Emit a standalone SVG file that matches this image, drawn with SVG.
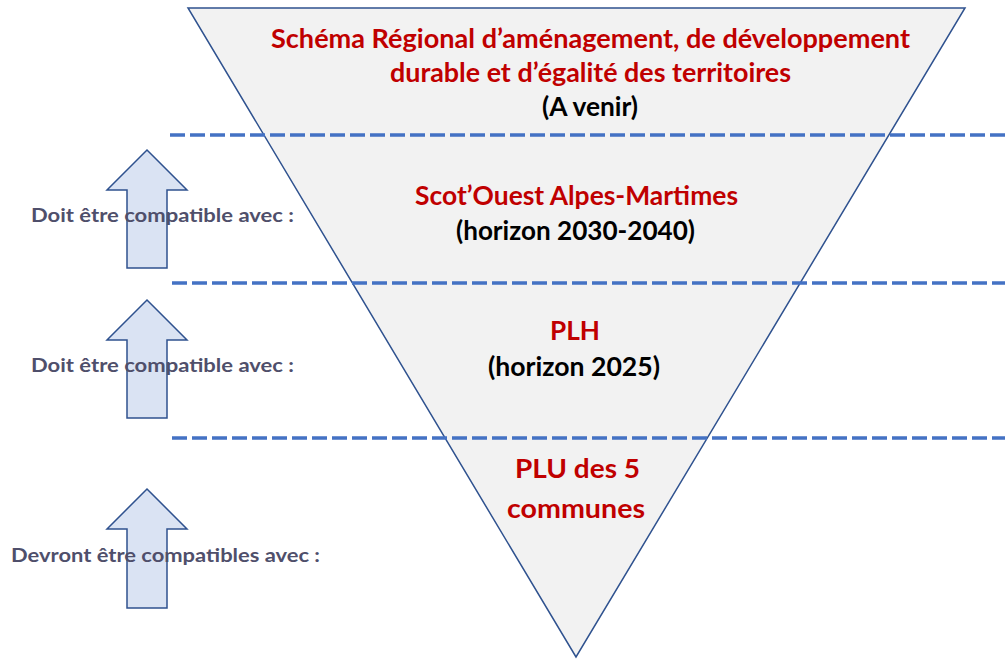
<svg xmlns="http://www.w3.org/2000/svg" width="1005" height="659" viewBox="0 0 1005 659">
<style>
.red{fill:#c00000;font-family:Lato,"Liberation Sans",sans-serif;font-weight:bold;font-size:26px}
.blk{fill:#000;font-family:Lato,"Liberation Sans",sans-serif;font-weight:bold;font-size:26px}
.lbl{fill:#4f4f6b;font-family:Lato,"Liberation Sans",sans-serif;font-weight:bold;font-size:18.5px}
.dash{stroke:#4472c4;stroke-width:3.5;stroke-dasharray:15 5;fill:none}
.arrow{fill:#dae3f3;stroke:#2f528f;stroke-width:1.5}
</style>
<rect width="1005" height="659" fill="#fff"/>
<g id="triangle">
<polygon points="188,8 965,8 576,657" fill="#f2f2f2" stroke="#2f528f" stroke-width="1.5"/>
</g>
<g id="connectors">
<line class="dash" x1="170" y1="135" x2="1005" y2="135"/>
<line class="dash" x1="172" y1="283" x2="1005" y2="283"/>
<line class="dash" x1="172" y1="438" x2="1005" y2="438"/>
</g>
<g id="arrow1"><polygon class="arrow" points="147,150 187,190 167,190 167,268 127,268 127,190 107,190"/></g>
<g id="arrow2"><polygon class="arrow" points="147,300 187,340 167,340 167,418 127,418 127,340 107,340"/></g>
<g id="arrow3"><polygon class="arrow" points="147,489 187,529 167,529 167,608 127,608 127,529 107,529"/></g>
<g id="label1"><text class="lbl" x="31" y="222" textLength="263" lengthAdjust="spacingAndGlyphs">Doit être compatible avec :</text></g>
<g id="label2"><text class="lbl" x="31" y="372" textLength="263" lengthAdjust="spacingAndGlyphs">Doit être compatible avec :</text></g>
<g id="label3"><text class="lbl" x="11" y="562" textLength="309" lengthAdjust="spacingAndGlyphs">Devront être compatibles avec :</text></g>
<g id="sraddet">
<text class="red" x="271" y="48" textLength="639" lengthAdjust="spacingAndGlyphs">Schéma Régional d’aménagement, de développement</text>
<text class="red" x="390" y="82" textLength="401" lengthAdjust="spacingAndGlyphs">durable et d’égalité des territoires</text>
<text class="blk" x="542" y="116" textLength="96" lengthAdjust="spacingAndGlyphs">(A venir)</text>
</g>
<g id="scot">
<text class="red" x="415" y="205" textLength="323" lengthAdjust="spacingAndGlyphs">Scot’Ouest Alpes-Martimes</text>
<text class="blk" x="456" y="240" textLength="239" lengthAdjust="spacingAndGlyphs">(horizon 2030-2040)</text>
</g>
<g id="plh">
<text class="red" x="550" y="340" textLength="50" lengthAdjust="spacingAndGlyphs">PLH</text>
<text class="blk" x="488" y="376" textLength="172" lengthAdjust="spacingAndGlyphs">(horizon 2025)</text>
</g>
<g id="plu">
<text class="red" x="515" y="478" textLength="125" lengthAdjust="spacingAndGlyphs">PLU des 5</text>
<text class="red" x="507" y="518" textLength="138" lengthAdjust="spacingAndGlyphs">communes</text>
</g>
</svg>
